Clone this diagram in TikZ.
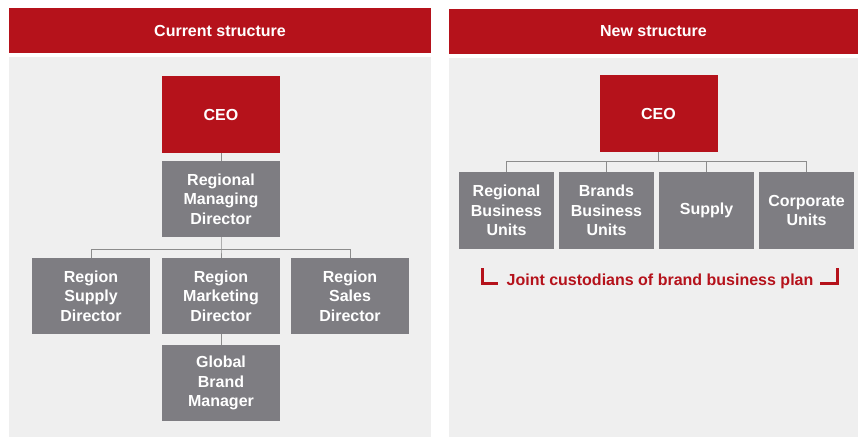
\documentclass[tikz,border=0pt]{standalone}
\usepackage{fontspec}
\setmainfont{Liberation Sans}
\usetikzlibrary{positioning}

\definecolor{hdrred}{HTML}{B5121B}
\definecolor{boxgray}{HTML}{7E7D82}
\definecolor{panelgray}{HTML}{EFEFEF}
\definecolor{linegray}{HTML}{8C8C8C}

\tikzset{
  boxfont/.style={font=\fontsize{16}{19.3}\selectfont\bfseries},
  header/.style={fill=hdrred, text=white, boxfont, inner sep=0pt},
  unit/.style={fill=boxgray, text=white, boxfont, align=center, inner sep=0pt,
    minimum width=118pt, minimum height=76pt},
  bu/.style={unit, minimum width=95pt, minimum height=77pt},
  ceo/.style={unit, fill=hdrred, minimum height=77pt},
  link/.style={draw=linegray, line width=0.9pt},
  bracket/.style={draw=hdrred, line width=3pt}
}

\begin{document}
\begin{tikzpicture}[x=1pt, y=-1pt]
        \useasboundingbox (0,0) rectangle (860,437);

        % panels
        \fill[panelgray] (9,57) rectangle (431,437);
        \fill[panelgray] (449,58) rectangle (858,437);
        \node[header, minimum width=422pt, minimum height=45pt] (curhdr) at (220,30.5) {Current structure};
        \node[header, minimum width=409pt, minimum height=45pt] (newhdr) at (653.5,31.5) {New structure};

        % current structure
        \node[ceo] (ceoa) at (221,114.5) {CEO};
        \node[unit] (rmd) at (221,199) {Regional\\Managing\\Director};
        \node[unit] (supply) at (91,296) {Region\\Supply\\Director};
        \node[unit] (mkt) at (221,296) {Region\\Marketing\\Director};
        \node[unit] (sales) at (350,296) {Region\\Sales\\Director};
        \node[unit] (gbm) at (221,383) {Global\\Brand\\Manager};

        \coordinate (bara) at (221,249);
        \draw[link] (ceoa) -- (rmd);
        \draw[link] (rmd) -- (bara) -- (mkt);
        \draw[link] (bara) -| (supply.north);
        \draw[link] (bara) -| (sales.north);
        \draw[link] (mkt) -- (gbm);

        % new structure
        \node[ceo] (ceob) at (658.5,113.5) {CEO};
        \node[bu] (rbu) at (506.5,210.5) {Regional\\Business\\Units};
        \node[bu] (bbu) at (606.5,210.5) {Brands\\Business\\Units};
        \node[bu] (sup) at (706.5,210.5) {Supply};
        \node[bu] (corp) at (806.5,210.5) {Corporate\\Units};

        \coordinate (barb) at (658.5,161);
        \draw[link] (ceob) -- (barb);
        \draw[link] (barb) -| (rbu.north);
        \draw[link] (barb) -| (bbu.north);
        \draw[link] (barb) -| (sup.north);
        \draw[link] (barb) -| (corp.north);

        \node[text=hdrred, boxfont, inner sep=0pt] (jcp) at (660,281.5) {Joint custodians of brand business plan};
        \draw[bracket] (482,268) |- (498,283);
        \draw[bracket] (820,283) -| (837,268);
      \end{tikzpicture}
\end{document}
